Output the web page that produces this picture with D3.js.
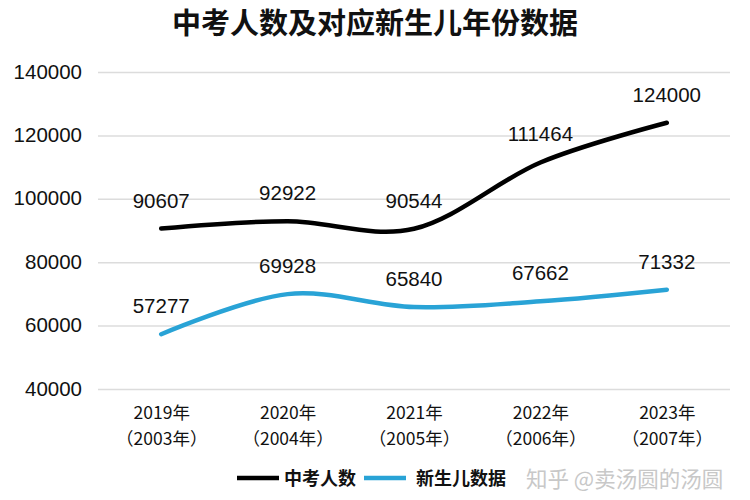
<!DOCTYPE html>
<html><head><meta charset="utf-8">
<script src="https://cdn.jsdelivr.net/npm/d3@7"></script>
<style>body{margin:0;background:#fff}svg{display:block}</style>
</head><body>
<svg id="c" width="750" height="500"></svg>
<script>
const title = "中考人数及对应新生儿年份数据";
const categories = ["2019年\n（2003年）","2020年\n（2004年）","2021年\n（2005年）","2022年\n（2006年）","2023年\n（2007年）"];
const examCounts = [90607, 92922, 90544, 111464, 124000];
const birthCounts = [57277, 69928, 65840, 67662, 71332];
const yTicks = [40000, 60000, 80000, 100000, 120000, 140000];
const seriesNames = ["中考人数", "新生儿数据"];
const seriesColors = ["#000000", "#29a3d6"];
const watermark = "知乎 @卖汤圆的汤圆";

(function () {
const svg = d3.select("#c");
const font = "'Liberation Sans', Arial, 'Noto Sans CJK SC', sans-serif";
const cjk = "'Noto Sans CJK SC', sans-serif";
const pl = 98, pr = 730, pt = 72, pb = 389;

const x = d3.scalePoint().domain(categories).range([pl, pr]).padding(0.5);
const y = d3.scaleLinear().domain([40000, 140000]).range([pb, pt]);

svg.append("text").attr("x", 375).attr("y", 34).attr("text-anchor", "middle")
  .attr("font-family", cjk).attr("font-weight", "bold").attr("font-size", 29)
  .attr("fill", "#111").text(title);

// grid + y axis
const ya = svg.append("g").attr("transform", `translate(${pl},0)`)
  .call(d3.axisLeft(y).tickValues(yTicks).tickSize(-(pr - pl)).tickPadding(16).tickFormat(d3.format("d")));
ya.select(".domain").remove();
ya.selectAll(".tick line").attr("stroke", "#dcdcdc").attr("stroke-width", 1.5);
ya.selectAll(".tick text").attr("font-family", font).attr("font-size", 20.5).attr("fill", "#111").attr("dy", "0.3em");

// x axis labels (two lines each)
const xa = svg.append("g").attr("transform", `translate(0,${pb})`)
  .call(d3.axisBottom(x).tickSize(0).tickFormat(""));
xa.select(".domain").remove();
xa.selectAll(".tick").each(function(d) {
  const g = d3.select(this);
  d.split("\n").forEach((s, i) => g.append("text").attr("text-anchor", "middle")
    .attr("font-family", cjk).attr("font-size", 17.5).attr("fill", "#111")
    .attr("x", 0).attr("y", 30 + i * 25.5).text(s));
});

const line = d3.line().x((d, i) => x(categories[i])).y(d => y(d)).curve(d3.curveCardinal.tension(0));
[examCounts, birthCounts].forEach((vals, k) => {
  svg.append("path").datum(vals).attr("d", line).attr("fill", "none")
    .attr("stroke", seriesColors[k]).attr("stroke-width", 4.5).attr("stroke-linecap", "round");
  svg.append("g").selectAll("text").data(vals).join("text")
    .attr("x", (d, i) => x(categories[i])).attr("y", d => y(d) - 21)
    .attr("text-anchor", "middle").attr("font-family", font).attr("font-size", 20.5)
    .attr("fill", "#111").text(d => d);
});

// legend
const lg = svg.append("g").attr("transform", "translate(0,478)");
const items = [{x: 237, tx: 284}, {x: 364, tx: 416}];
items.forEach((it, k) => {
  lg.append("line").attr("x1", it.x).attr("x2", it.x + 42).attr("y1", 0).attr("y2", 0)
    .attr("stroke", seriesColors[k]).attr("stroke-width", 4.5);
  lg.append("text").attr("x", it.tx).attr("y", 7).attr("font-family", cjk).attr("font-weight", "bold")
    .attr("font-size", 18).attr("fill", "#111").text(seriesNames[k]);
});
lg.append("text").attr("x", 526).attr("y", 9).attr("font-family", cjk).attr("font-size", 21.5)
  .attr("fill", "#c8c8c8").text(watermark);
})();
</script>
</body></html>
